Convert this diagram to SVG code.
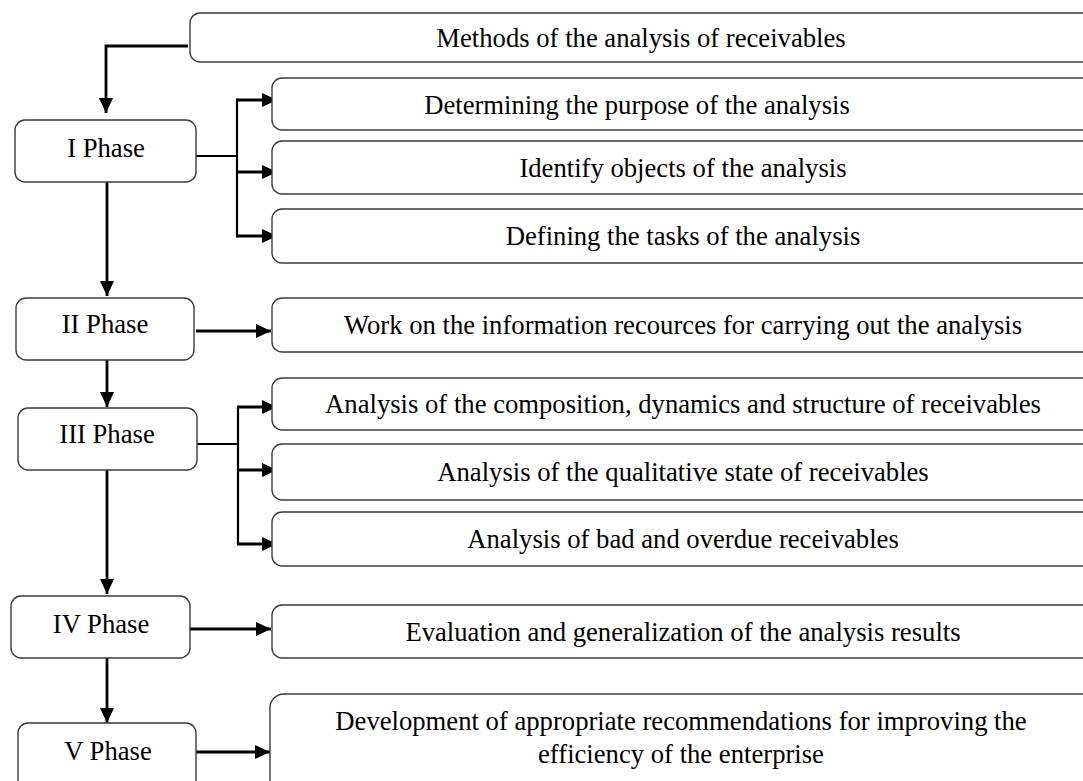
<svg xmlns="http://www.w3.org/2000/svg" width="1083" height="781" viewBox="0 0 1083 781">
<style>
.box{fill:#fff;stroke:#3a3a3a;stroke-width:1.4}
.t{font-family:"Liberation Serif","Times New Roman",serif;font-size:26.67px;fill:#000;text-anchor:middle}
.ln{fill:none;stroke:#000;stroke-width:2.2}
.ar{fill:none;stroke:#000;stroke-width:2.8;marker-end:url(#ah)}
</style>
<defs>
<marker id="ah" viewBox="0 0 15 14" refX="15" refY="7" markerWidth="15" markerHeight="14" markerUnits="userSpaceOnUse" orient="auto">
<path d="M0,0 L15,7 L0,14 z" fill="#000"/>
</marker>
</defs>
<rect width="1083" height="781" fill="#fff"/>
<g id="connectors">
<path class="ar" d="M188,46 H106 V113"/>
<path class="ar" d="M107,182 V296"/>
<path class="ar" d="M107,360 V407"/>
<path class="ar" d="M107,470 V594"/>
<path class="ar" d="M107,658 V723"/>
<path class="ln" d="M196,156 H237 M237,100 V236"/>
<path class="ar" d="M236,100 H277"/>
<path class="ar" d="M236,172 H277"/>
<path class="ar" d="M236,236 H277"/>
<path class="ar" d="M196,331 H271"/>
<path class="ln" d="M197,444 H238 M238,407 V544"/>
<path class="ar" d="M237,407 H277"/>
<path class="ar" d="M237,470 H277"/>
<path class="ar" d="M237,544 H277"/>
<path class="ar" d="M190,629 H271"/>
<path class="ar" d="M196,752 H270"/>
</g>
<g id="top"><rect class="box" x="190" y="13" width="920" height="49" rx="10"/><text class="t" x="641" y="47">Methods of the analysis of receivables</text></g>
<g id="p1"><rect class="box" x="15" y="120" width="181" height="62" rx="10"/><text class="t" x="106" y="157">I Phase</text></g>
<g id="p1a"><rect class="box" x="272" y="78" width="840" height="52" rx="10"/><text class="t" x="637" y="114">Determining the purpose of the analysis</text></g>
<g id="p1b"><rect class="box" x="272" y="141" width="840" height="53" rx="10"/><text class="t" x="683" y="177">Identify objects of the analysis</text></g>
<g id="p1c"><rect class="box" x="272" y="209" width="840" height="54" rx="10"/><text class="t" x="683" y="245">Defining the tasks of the analysis</text></g>
<g id="p2"><rect class="box" x="16" y="298" width="178" height="62" rx="10"/><text class="t" x="105" y="333">II Phase</text></g>
<g id="p2a"><rect class="box" x="272" y="298" width="840" height="54" rx="10"/><text class="t" x="683" y="334">Work on the information recources for carrying out the analysis</text></g>
<g id="p3"><rect class="box" x="18" y="408" width="179" height="62" rx="10"/><text class="t" x="107" y="443">III Phase</text></g>
<g id="p3a"><rect class="box" x="272" y="378" width="840" height="52" rx="10"/><text class="t" x="683" y="413">Analysis of the composition, dynamics and structure of receivables</text></g>
<g id="p3b"><rect class="box" x="272" y="444" width="840" height="56" rx="10"/><text class="t" x="683" y="481">Analysis of the qualitative state of receivables</text></g>
<g id="p3c"><rect class="box" x="272" y="512" width="840" height="54" rx="10"/><text class="t" x="683" y="548">Analysis of bad and overdue receivables</text></g>
<g id="p4"><rect class="box" x="11" y="596" width="179" height="62" rx="10"/><text class="t" x="101" y="633">IV Phase</text></g>
<g id="p4a"><rect class="box" x="272" y="605" width="840" height="53" rx="10"/><text class="t" x="683" y="641">Evaluation and generalization of the analysis results</text></g>
<g id="p5"><rect class="box" x="18" y="723" width="178" height="80" rx="10"/><text class="t" x="108" y="760">V Phase</text></g>
<g id="p5a"><rect class="box" x="270" y="694" width="842" height="110" rx="14"/><text class="t" x="681" y="730">Development of appropriate recommendations for improving the</text><text class="t" x="681" y="763">efficiency of the enterprise</text></g>
</svg>
